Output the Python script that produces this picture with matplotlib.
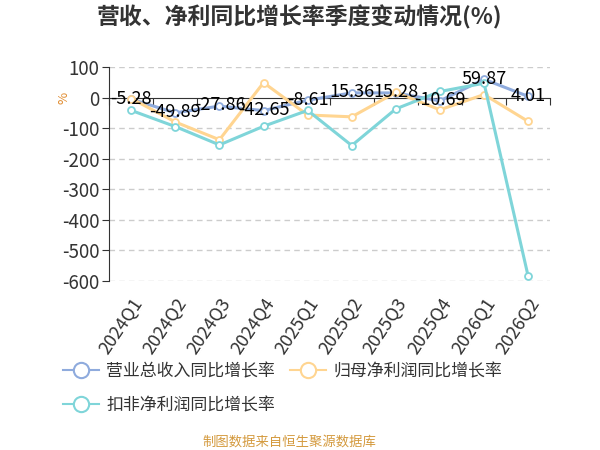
import matplotlib
matplotlib.use("Agg")
import matplotlib.pyplot as plt
from matplotlib.lines import Line2D
import numpy as np

plt.rcParams['font.family'] = ['Noto Sans CJK SC', 'DejaVu Sans']
plt.rcParams['axes.unicode_minus'] = False

quarters = ["2024Q1", "2024Q2", "2024Q3", "2024Q4", "2025Q1",
            "2025Q2", "2025Q3", "2025Q4", "2026Q1", "2026Q2"]
revenue_yoy = [-5.28, -49.89, -27.86, -42.65, -8.61, 15.36, 15.28, -10.69, 59.87, 4.01]
parent_np_yoy = [-3, -80, -138, 49, -57, -63, 17, -40, 10, -78]
deducted_np_yoy = [-42, -95, -155, -94, -42, -157, -37, 20, 47, -585]
series_names = ["营业总收入同比增长率", "归母净利润同比增长率", "扣非净利润同比增长率"]
colors = ["#8fabdd", "#ffd591", "#7fd5d9"]

fig = plt.figure(figsize=(6, 4.5), dpi=100)
ax = fig.add_axes([0.182, 0.376, 0.735, 0.475])

x = np.arange(len(quarters))
for vals, c, name in zip([revenue_yoy, parent_np_yoy, deducted_np_yoy], colors, series_names):
    ax.plot(x, vals, color=c, lw=2.2, marker="o", ms=5, mfc="white", mec=c, mew=1.3,
            label=name, zorder=3)

for xi, v in zip(x, revenue_yoy):
    ax.annotate(f"{v:.2f}", (xi, v), xytext=(0, 0.5), textcoords="offset points",
                ha="center", va="center", fontsize=13, color="black", zorder=5)

ax.set_xlim(-0.5, len(quarters) - 0.5)
ax.set_ylim(-600, 100)
ax.set_yticks(np.arange(-600, 101, 100))
ax.tick_params(axis="y", length=5, color="#333333", labelcolor="#333333", labelsize=13.5, pad=2)
for t in ax.get_yticks():
    if t != 0:
        ax.axhline(t, color="#cccccc", lw=1, ls=(0, (4, 3)), zorder=1)

for s in ["top", "right"]:
    ax.spines[s].set_visible(False)
ax.spines["left"].set_color("#333333")
ax.spines["bottom"].set_position(("data", 0))
ax.spines["bottom"].set_color("#333333")
ax.set_xticks(np.arange(-0.5, len(quarters), 1.0))
ax.tick_params(axis="x", length=5, direction="out", color="#333333", labelbottom=False)

sec = ax.secondary_xaxis("bottom")
sec.set_xticks(x)
sec.set_xticklabels(quarters, rotation=56, ha="right", va="top", rotation_mode="anchor",
                    fontsize=13, color="#333333")
sec.tick_params(length=0, pad=10)
sec.spines["bottom"].set_visible(False)

ax.text(-0.102, 0.857, "%", transform=ax.transAxes, rotation=90, color="#e08a2c",
        fontsize=9.5, ha="center", va="center")

fig.text(0.5, 0.962, "营收、净利同比增长率季度变动情况(%)", ha="center", va="center",
         fontsize=16.5, fontweight="bold", color="#333333")

# ncol=2 fills column-wise: reorder so rows read blue, orange / cyan
order = [0, 2, 1]
handles = [Line2D([0], [0], color=colors[i], lw=1.5, marker="o", ms=11, mfc="white",
                  mec=colors[i], mew=1.5) for i in order]
labels = [series_names[i] for i in order]
fig.legend(handles, labels, loc="upper left", bbox_to_anchor=(0.105, 0.195), ncol=2,
           frameon=False, fontsize=12.2, handlelength=2.1, handletextpad=0.45,
           columnspacing=0.9, labelspacing=0.95, borderpad=0, borderaxespad=0,
           labelcolor="#333333")

fig.text(0.483, 0.018, "制图数据来自恒生聚源数据库", ha="center", va="center",
         fontsize=9.6, color="#d49a3e")

fig.savefig("out.png", dpi=100)
